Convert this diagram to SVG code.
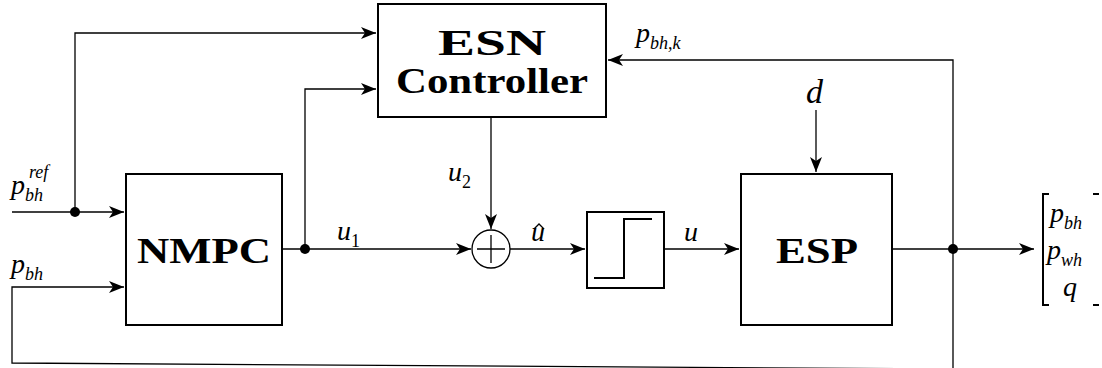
<svg xmlns="http://www.w3.org/2000/svg" width="1102" height="368" viewBox="0 0 1102 368">
<style>
.box{fill:#fff;stroke:#000;stroke-width:2}
.ln{fill:none;stroke:#000;stroke-width:1.3}
.bt{font-family:"Liberation Serif",serif;font-weight:bold;font-size:36px}
.m{font-family:"Liberation Serif",serif;font-style:italic;font-size:28px}
.s{font-size:18px}
.n{font-style:normal}
</style>
<defs>
<marker id="ah" markerWidth="16" markerHeight="12" refX="15" refY="6" orient="auto" markerUnits="userSpaceOnUse">
<path d="M0,0 L15,6 L0,12 L4,6 Z" fill="#000"/>
</marker>
</defs>
<g id="connectors">
<path class="ln" d="M12,212 H124" marker-end="url(#ah)"/>
<path class="ln" d="M75,212 V33 H376" marker-end="url(#ah)"/>
<path class="ln" d="M282,249 H471" marker-end="url(#ah)"/>
<path class="ln" d="M305,249 V89 H376" marker-end="url(#ah)"/>
<path class="ln" d="M491,117 V229" marker-end="url(#ah)"/>
<path class="ln" d="M510,249 H585" marker-end="url(#ah)"/>
<path class="ln" d="M664,249 H739" marker-end="url(#ah)"/>
<path class="ln" d="M816,110 V172" marker-end="url(#ah)"/>
<path class="ln" d="M892,249 H1034" marker-end="url(#ah)"/>
<path class="ln" d="M953,375 V60 H608" marker-end="url(#ah)"/>
<path class="ln" d="M953,369 L12,363 V287 H124" marker-end="url(#ah)"/>
<circle cx="75" cy="212" r="5"/>
<circle cx="305" cy="249" r="5"/>
<circle cx="953" cy="249" r="5"/>
</g>
<g id="esn">
<rect class="box" x="378" y="4" width="228" height="113"/>
<text class="bt" x="438" y="55" textLength="108" lengthAdjust="spacingAndGlyphs">ESN</text>
<text class="bt" x="396" y="93" textLength="192" lengthAdjust="spacingAndGlyphs">Controller</text>
</g>
<g id="nmpc">
<rect class="box" x="126" y="174" width="156" height="151"/>
<text class="bt" x="137" y="263" textLength="134" lengthAdjust="spacingAndGlyphs">NMPC</text>
</g>
<g id="esp">
<rect class="box" x="741" y="174" width="151" height="151"/>
<text class="bt" x="776" y="263" textLength="82" lengthAdjust="spacingAndGlyphs">ESP</text>
</g>
<g id="sum">
<circle cx="491" cy="249" r="19" fill="#fff" stroke="#000" stroke-width="1.3"/>
<path class="ln" d="M491,235 V263 M477,249 H505"/>
</g>
<g id="saturation">
<rect class="box" x="587" y="212" width="77" height="76"/>
<path d="M594,278 H624 V219 H652" fill="none" stroke="#000" stroke-width="2"/>
</g>
<g id="labels">
<text class="m" x="11" y="194">p<tspan class="s" dy="7">bh</tspan><tspan class="s" x="29" y="178">ref</tspan></text>
<text class="m" x="11" y="273">p<tspan class="s" dy="7">bh</tspan></text>
<text class="m" x="337" y="240">u<tspan class="s n" dy="7">1</tspan></text>
<text class="m" x="448" y="181">u<tspan class="s n" dy="7">2</tspan></text>
<text class="m" x="531" y="241">u</text>
<path d="M534,229 L539,224 L544,229" fill="none" stroke="#000" stroke-width="1.3"/>
<text class="m" x="684" y="241">u</text>
<text class="m" x="806" y="103" style="font-size:34px">d</text>
<text class="m" x="636" y="42">p<tspan class="s" dy="7">bh,k</tspan></text>
</g>
<g id="output">
<path d="M1049,194 H1043 V305 H1049 M1093,194 H1099 M1093,305 H1099" fill="none" stroke="#000" stroke-width="2"/>
<text class="m" x="1050" y="222">p<tspan class="s" dy="7">bh</tspan></text>
<text class="m" x="1047" y="259">p<tspan class="s" dy="7">wh</tspan></text>
<text class="m" x="1063" y="296">q</text>
</g>
</svg>
